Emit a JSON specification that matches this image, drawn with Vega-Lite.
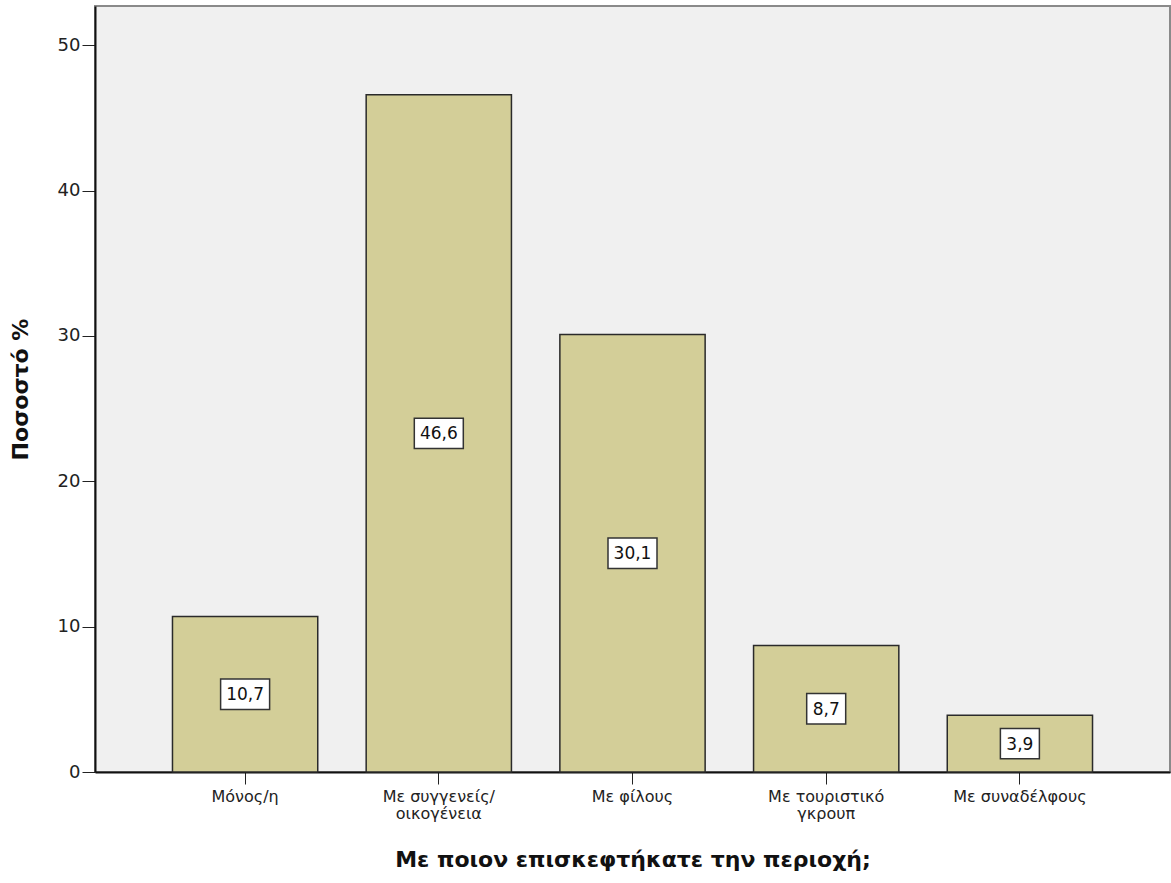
{
  "$schema": "https://vega.github.io/schema/vega-lite/v6.json",
  "width": 1075,
  "height": 766,
  "autosize": {"type": "none"},
  "padding": {"left": 95, "top": 6, "right": 1, "bottom": 111},
  "background": "white",
  "config": {
    "view": {"fill": "#f0f0f0", "stroke": "#8a8a8a", "strokeWidth": 2},
    "font": "DejaVu Sans",
    "axis": {"labelFont": "DejaVu Sans", "titleFont": "DejaVu Sans"}
  },
  "data": {
    "values": [
      {"cat": "Μόνος/η", "pct": 10.7, "label": "10,7"},
      {"cat": "Με συγγενείς/οικογένεια", "pct": 46.6, "label": "46,6"},
      {"cat": "Με φίλους", "pct": 30.1, "label": "30,1"},
      {"cat": "Με τουριστικό γκρουπ", "pct": 8.7, "label": "8,7"},
      {"cat": "Με συναδέλφους", "pct": 3.9, "label": "3,9"}
    ]
  },
  "encoding": {
    "x": {
      "field": "cat",
      "type": "nominal",
      "sort": null,
      "scale": {"paddingInner": 0.25, "paddingOuter": 0.4},
      "axis": {
        "title": "Με ποιον επισκεφτήκατε την περιοχή;",
        "titleFontSize": 22,
        "titleFontWeight": "bold",
        "titleColor": "#111",
        "titlePadding": 28,
        "labelAngle": 0,
        "labelFontSize": 16,
        "labelColor": "#222",
        "labelPadding": 4,
        "labelLineHeight": 17,
        "tickSize": 12,
        "tickColor": "#222",
        "domainColor": "#111",
        "domainWidth": 2,
        "labelExpr": "datum.value == 'Με συγγενείς/οικογένεια' ? ['Με συγγενείς/', 'οικογένεια'] : datum.value == 'Με τουριστικό γκρουπ' ? ['Με τουριστικό', 'γκρουπ'] : datum.value"
      }
    }
  },
  "layer": [
    {
      "mark": {"type": "bar", "fill": "#d3ce98", "stroke": "#2a2a2a", "strokeWidth": 1.5},
      "encoding": {
        "y": {
          "field": "pct",
          "type": "quantitative",
          "scale": {"domain": [0, 52.7], "nice": false},
          "axis": {
            "title": "Ποσοστό %",
            "titleFontSize": 22,
            "titleFontWeight": "bold",
            "titleColor": "#111",
            "titlePadding": 25,
            "values": [0, 10, 20, 30, 40, 50],
            "grid": false,
            "labelFontSize": 18,
            "labelColor": "#222",
            "labelPadding": 2,
            "tickSize": 13,
            "tickColor": "#222",
            "domainColor": "#111",
            "domainWidth": 2
          }
        }
      }
    },
    {
      "transform": [{"filter": "datum.pct >= 10"}],
      "mark": {"type": "point", "filled": true, "fill": "white", "stroke": "#333", "strokeWidth": 1.5, "opacity": 1, "shape": "M-1,-0.62L1,-0.62L1,0.62L-1,0.62Z", "size": 2401},
      "encoding": {
        "y": {"field": "pct", "type": "quantitative", "scale": {"domain": [0, 105.4], "nice": false}, "axis": null}
      }
    },
    {
      "transform": [{"filter": "datum.pct < 10"}],
      "mark": {"type": "point", "filled": true, "fill": "white", "stroke": "#333", "strokeWidth": 1.5, "opacity": 1, "shape": "M-1,-0.78L1,-0.78L1,0.78L-1,0.78Z", "size": 1521},
      "encoding": {
        "y": {"field": "pct", "type": "quantitative", "scale": {"domain": [0, 105.4], "nice": false}, "axis": null}
      }
    },
    {
      "mark": {"type": "text", "fontSize": 17, "color": "#111", "baseline": "middle", "align": "center", "dy": 1},
      "encoding": {
        "y": {"field": "pct", "type": "quantitative", "scale": {"domain": [0, 105.4], "nice": false}, "axis": null},
        "text": {"field": "label"}
      }
    }
  ],
  "resolve": {"scale": {"y": "independent"}}
}
